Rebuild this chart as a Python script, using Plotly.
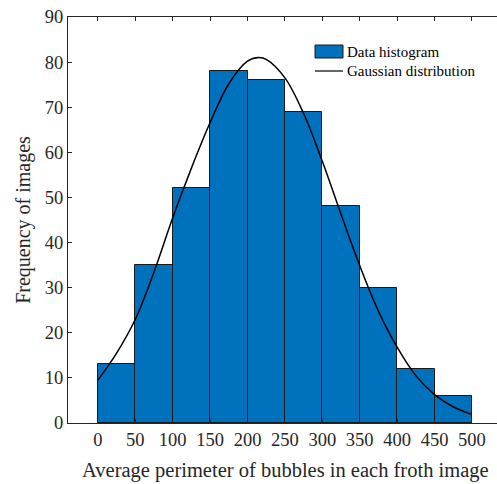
import plotly.graph_objects as go

bin_centers = [25, 75, 125, 175, 225, 275, 325, 375, 425, 475]
bin_counts = [13, 35, 52, 78, 76, 69, 48, 30, 12, 6]
bin_width = 50

curve_x = [0, 25, 50, 75, 100, 125, 150, 175, 200, 215, 225, 250, 275, 300,
           325, 350, 375, 400, 425, 450, 475, 500]
curve_y = [9.5, 15.5, 23.0, 33.5, 45.5, 56.5, 66.6, 75.2, 80.2, 81.0, 80.6, 76.5,
           68.6, 58.0, 46.3, 34.9, 24.8, 16.8, 10.5, 6.3, 3.6, 1.9]

x_ticks = [0, 50, 100, 150, 200, 250, 300, 350, 400, 450, 500]
y_ticks = [0, 10, 20, 30, 40, 50, 60, 70, 80, 90]

FONT = "Liberation Serif"
AXC = "#262626"

W = 510
PW = W - 68  # plot width in px
x_right = -40 + PW / 0.748

fig = go.Figure()
fig.add_trace(go.Bar(
    x=bin_centers, y=bin_counts, width=bin_width,
    marker=dict(color="#0072BD", line=dict(color="#1a1a1a", width=1)),
    name="Data histogram", showlegend=False,
))
fig.add_trace(go.Scatter(
    x=curve_x, y=curve_y, mode="lines", line=dict(color="black", width=1.5, shape="spline"),
    name="Gaussian distribution", showlegend=False,
))

# manual legend (MATLAB style)
fig.add_shape(type="rect", xref="paper", yref="paper",
              x0=(315-68)/PW, x1=(343-68)/PW, y0=(423-58)/406, y1=(423-45)/406,
              fillcolor="#0072BD", line=dict(color="#1a1a1a", width=1))
fig.add_shape(type="line", xref="paper", yref="paper",
              x0=(315-68)/PW, x1=(343-68)/PW, y0=(423-71)/406, y1=(423-71)/406,
              line=dict(color="black", width=1.2))
fig.add_annotation(xref="paper", yref="paper", x=(345-68)/PW, y=(423-52)/406,
                   text="Data histogram", showarrow=False, xanchor="left", yanchor="middle",
                   font=dict(family=FONT, size=15, color="black"))
fig.add_annotation(xref="paper", yref="paper", x=(345-68)/PW, y=(423-71)/406,
                   text="Gaussian distribution", showarrow=False, xanchor="left", yanchor="middle",
                   font=dict(family=FONT, size=15, color="black"))
# x-axis title (centred on the visible axis box)
fig.add_annotation(xref="paper", yref="paper", x=(285-68)/PW, y=(423-470)/406,
                   text="Average perimeter of bubbles in each froth image", showarrow=False,
                   xanchor="center", yanchor="middle",
                   font=dict(family=FONT, size=20.5, color=AXC))

fig.update_layout(
    width=W, height=484,
    margin=dict(l=68, r=0, t=17, b=61),
    plot_bgcolor="white", paper_bgcolor="white",
    bargap=0,
    font=dict(family=FONT, size=18.5, color=AXC),
    xaxis=dict(range=[-40, x_right], tickvals=x_ticks, ticks="inside", ticklen=4,
               tickcolor=AXC, showline=True, linecolor=AXC, linewidth=1, mirror="ticks",
               showgrid=False, zeroline=False, automargin=False,
               tickfont=dict(family=FONT, size=18.5, color=AXC)),
    yaxis=dict(range=[0, 90], tickvals=y_ticks, ticks="inside", ticklen=4,
               tickcolor=AXC, showline=True, linecolor=AXC, linewidth=1, mirror="ticks",
               showgrid=False, zeroline=False, automargin=False,
               title=dict(text="Frequency of images",
                          font=dict(family=FONT, size=20, color=AXC), standoff=8),
               tickfont=dict(family=FONT, size=18.5, color=AXC)),
)

fig.write_html("out.html", config={"displayModeBar": False},
               post_script="document.body.style.margin='0';document.body.style.overflow='hidden';")
